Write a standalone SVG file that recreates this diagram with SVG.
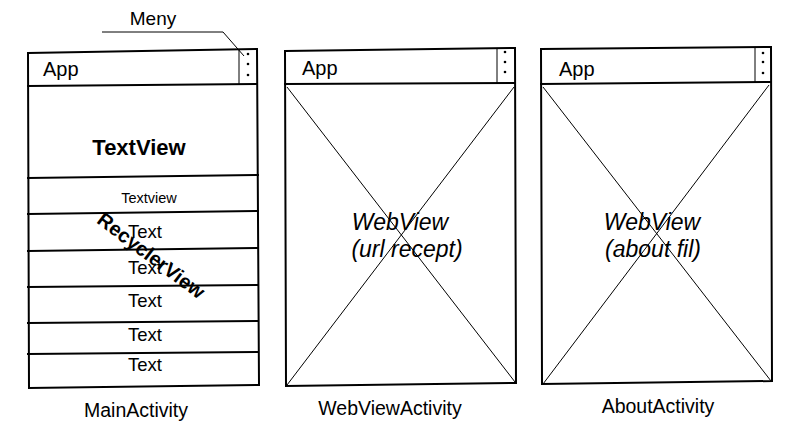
<svg xmlns="http://www.w3.org/2000/svg" width="805" height="422" viewBox="0 0 805 422">
<style>
.f{fill:none;stroke:#000;stroke-width:2;stroke-linecap:square}
.t{fill:none;stroke:#000;stroke-width:1}
text{font-family:"Liberation Sans",Arial,sans-serif;fill:#000}
.dot{fill:#000}
.app{font-size:20px}
.row{font-size:18.5px;text-anchor:middle}
.lbl{font-size:19.5px;text-anchor:middle}
.wv{font-size:23px;font-style:italic;text-anchor:middle}
</style>
<rect width="805" height="422" fill="#fff"/>
<g id="main">
<path class="f" d="M28,53 L257,49 L259,385 L29,388 Z"/>
<path class="f" d="M28,86 L257,84"/>
<path class="t" d="M239,50 L239,84"/>
<circle class="dot" cx="248" cy="54" r="1.3"/><circle class="dot" cx="248" cy="64" r="1.3"/><circle class="dot" cx="248" cy="75" r="1.3"/>
<text class="app" x="43" y="76">App</text>
<text x="139" y="155" font-size="22" font-weight="bold" text-anchor="middle">TextView</text>
<path class="f" d="M28,178 L258,175"/>
<path class="f" d="M28,214 L258,211"/>
<path class="f" d="M28,251 L258,248"/>
<path class="f" d="M28,287 L258,285"/>
<path class="f" d="M28,323 L258,321"/>
<path class="f" d="M28,354 L258,352"/>
<text x="149" y="203" font-size="14.5" text-anchor="middle">Textview</text>
<text class="row" x="145" y="238">Text</text>
<text class="row" x="145" y="274">Text</text>
<text class="row" x="145" y="307">Text</text>
<text class="row" x="145" y="341">Text</text>
<text class="row" x="145" y="371">Text</text>
<text x="0" y="0" font-size="20" font-weight="bold" text-anchor="middle" transform="translate(147,261) rotate(37)">RecyclerView</text>
<text class="lbl" x="136" y="417">MainActivity</text>
</g>
<g id="meny">
<text x="153" y="25" font-size="19" text-anchor="middle">Meny</text>
<path class="t" d="M102,32 L223,32 L244,56"/>
</g>
<g id="webview">
<path class="f" d="M285,51 L515,48 L516,383 L286,386 Z"/>
<path class="f" d="M285,84 L515,83"/>
<path class="t" d="M497,49 L497,83"/>
<circle class="dot" cx="505" cy="52" r="1.3"/><circle class="dot" cx="505" cy="62" r="1.3"/><circle class="dot" cx="505" cy="72" r="1.3"/>
<path class="t" d="M287,87 L515,382 M514,87 L287,385"/>
<text class="app" x="302" y="75">App</text>
<text class="wv" x="400" y="230">WebView</text>
<text class="wv" x="407" y="257">(url recept)</text>
<text class="lbl" x="390" y="415">WebViewActivity</text>
</g>
<g id="about">
<path class="f" d="M541,49 L771,47 L772,381 L542,384 Z"/>
<path class="f" d="M541,84 L771,82"/>
<path class="t" d="M755,48 L755,82"/>
<circle class="dot" cx="763" cy="53" r="1.3"/><circle class="dot" cx="763" cy="62" r="1.3"/><circle class="dot" cx="763" cy="73" r="1.3"/>
<path class="t" d="M543,87 L771,381 M769,85 L543,384"/>
<text class="app" x="559" y="76">App</text>
<text class="wv" x="652" y="230">WebView</text>
<text class="wv" x="653" y="257">(about fil)</text>
<text class="lbl" x="658" y="413">AboutActivity</text>
</g>
<g id="connectors"></g>
</svg>
